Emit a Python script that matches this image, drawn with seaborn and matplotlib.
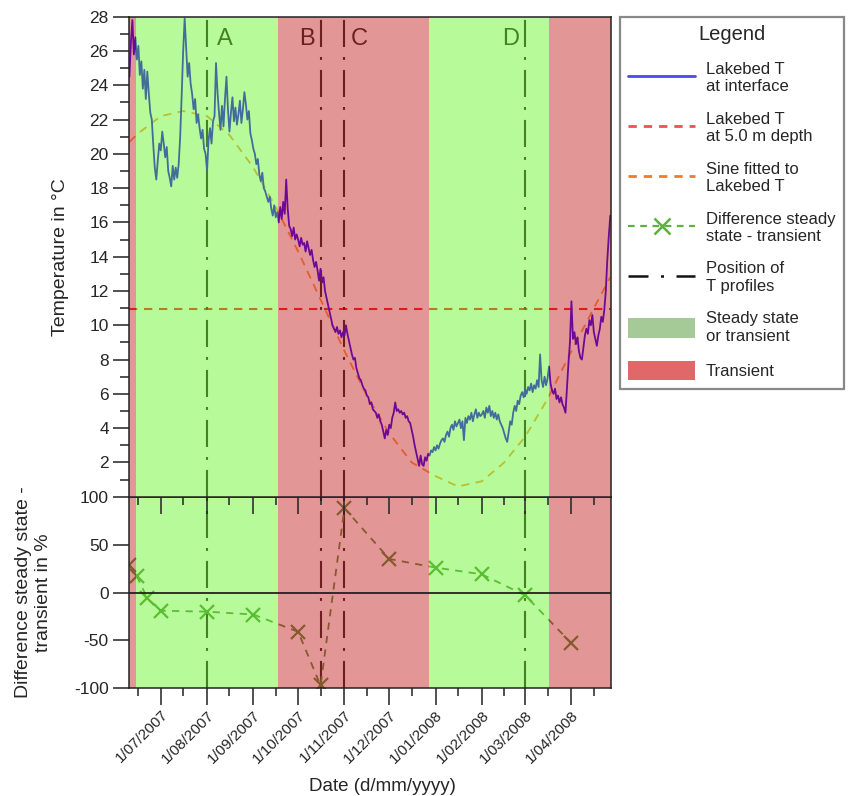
import matplotlib
matplotlib.use("Agg")
import matplotlib.pyplot as plt
import matplotlib.dates as mdates
import matplotlib.ticker as mticker
from matplotlib.lines import Line2D
from matplotlib.patches import Patch
import numpy as np
import pandas as pd
import seaborn as sns

sns.set_theme(style="ticks")
plt.rcParams['font.family'] = ['Liberation Sans', 'DejaVu Sans']
plt.rcParams['axes.unicode_minus'] = False

# ---------------- data ----------------
t_start = "2007-06-10"
t_jun = [24.5, 26.5, 27.8, 25.8, 26.8, 25.5, 26.3, 24.6, 25.4, 23.8, 24.9, 23.2, 24.8, 23.5,
         22.4, 22.0, 20.5, 19.2, 18.5, 19.6, 20.6]
t_jul = [20.2, 21.3, 20.6, 19.8, 20.4, 19.0, 18.6, 18.1, 19.3, 18.5, 19.2, 18.6, 19.4, 21.0,
         23.4, 26.0, 27.9, 26.2, 24.5, 25.3, 24.1, 23.5, 22.6, 23.2, 21.8, 22.3, 21.5, 20.9,
         21.4, 20.3, 20.0]
t_aug = [19.0, 20.8, 21.5, 20.6, 21.9, 22.2, 25.3, 23.6, 22.4, 21.4, 22.8, 21.6, 23.2, 24.5,
         22.6, 21.3, 22.4, 23.3, 21.9, 22.7, 21.7, 22.3, 23.1, 21.8, 22.6, 23.6, 22.9, 22.0,
         22.5, 21.2, 20.8]
t_sep = [20.3, 20.0, 19.4, 19.7, 18.8, 18.4, 18.9, 18.0, 17.8, 17.5, 17.2, 17.5, 16.8, 16.4,
         17.0, 16.3, 16.6, 16.0, 16.9, 16.2, 17.2, 16.5, 18.5, 16.8, 15.8, 15.6, 15.2, 15.7,
         15.0, 15.3]
t_oct = [15.0, 14.6, 15.1, 14.7, 14.8, 14.3, 14.9, 14.5, 14.1, 14.4, 13.8, 13.4, 13.7, 13.2,
         12.6, 13.3, 12.5, 12.8, 12.0, 11.6, 11.2, 10.8, 10.4, 10.0, 9.8, 9.6, 9.9, 9.5,
         9.7, 9.3, 9.6]
t_nov = [9.4, 10.0, 9.5, 9.1, 8.7, 8.3, 8.0, 8.1, 7.5, 7.2, 6.9, 6.8, 6.5, 6.3, 6.2, 5.9,
         5.8, 5.4, 5.5, 5.1, 5.0, 4.9, 4.6, 4.8, 4.4, 4.2, 3.8, 3.4, 3.9, 3.6]
t_dec = [4.2, 4.0, 4.6, 4.9, 5.5, 5.0, 5.1, 4.9, 5.0, 4.8, 4.9, 4.6, 4.7, 4.4, 4.3, 3.9,
         3.5, 3.0, 2.6, 2.2, 1.8, 2.4, 1.9, 1.8, 2.3, 2.1, 2.5, 2.4, 2.7, 2.6, 2.9]
t_jan = [2.7, 3.0, 2.8, 3.1, 3.3, 3.4, 3.2, 3.6, 3.8, 3.5, 4.0, 4.2, 3.9, 4.4, 4.1, 4.3,
         4.5, 4.0, 4.4, 3.3, 4.6, 4.3, 4.7, 4.5, 4.9, 4.4, 4.8, 5.1, 4.6, 4.9, 4.7]
t_feb = [4.8, 5.0, 4.6, 5.2, 4.9, 5.3, 4.7, 5.0, 4.6, 4.9, 4.5, 4.8, 4.4, 4.2, 4.0, 3.7,
         3.4, 3.2, 3.8, 4.4, 4.2, 4.9, 5.3, 5.0, 5.6, 5.4, 5.9, 6.1, 5.8]
t_mar = [6.3, 6.0, 6.4, 6.2, 6.6, 6.1, 6.5, 6.3, 6.8, 6.4, 8.3, 6.8, 6.4, 7.0, 6.5, 6.9,
         7.6, 6.6, 6.2, 6.0, 6.3, 5.7, 5.9, 5.5, 5.8, 5.4, 5.2, 4.9, 6.4, 7.8, 9.0]
t_apr = [11.4, 9.2, 9.6, 8.9, 9.3, 8.5, 8.1, 8.0, 8.7, 9.4, 9.8, 9.5, 10.3, 10.0, 10.6, 9.6,
         9.2, 8.8, 9.4, 9.8, 10.5, 10.2, 10.9, 12.0, 13.8, 15.2, 16.4]

sine_dates = ["2007-06-10", "2007-06-16", "2007-07-01", "2007-07-16", "2007-08-01", "2007-08-16",
              "2007-09-01", "2007-09-16", "2007-10-01", "2007-10-16", "2007-11-01", "2007-11-16",
              "2007-12-01", "2007-12-16", "2008-01-01", "2008-01-16", "2008-02-01", "2008-02-16",
              "2008-03-01", "2008-03-16", "2008-04-01", "2008-04-16", "2008-04-27"]
sine_vals = [20.7, 21.2, 22.2, 22.5, 22.2, 21.1, 19.2, 16.9, 14.3, 11.5, 8.5, 5.9,
             3.7, 2.0, 1.2, 0.6, 0.9, 2.0, 3.5, 5.7, 8.5, 11.0, 12.8]

depth_T = 10.95

diff_dates = ["2007-06-10", "2007-06-15", "2007-06-22", "2007-07-01", "2007-08-01", "2007-09-01",
              "2007-10-01", "2007-10-16", "2007-11-01", "2007-12-01", "2008-01-01", "2008-02-01",
              "2008-03-01", "2008-04-01"]
diff_vals = [29, 17, -6, -19, -20, -23, -41, -97, 88, 35, 26, 19, -3, -53]

profile_dates = ["2007-08-01", "2007-10-16", "2007-11-01", "2008-03-01"]
profile_names = ["A", "B", "C", "D"]

state_bounds = ["2007-06-09 17:00", "2007-06-14 16:00", "2007-09-17 07:00",
                "2007-12-27 07:00", "2008-03-17 05:00", "2008-04-27 12:00"]
state_kind = ["transient", "steady", "transient", "steady", "transient"]

legend_labels = ["Lakebed T\nat interface", "Lakebed T\nat 5.0 m depth",
                 "Sine fitted to\nLakebed T", "Difference steady\nstate - transient",
                 "Position of\nT profiles", "Steady state\nor transient", "Transient"]

# ---------------- styling ----------------
SPAN_COL = {"steady": "#61f41f", "transient": "#c31616"}
SPAN_ALPHA = 0.45
LINE_BLUE = "#2800ff"
SINE_COL = "#ff963c"
RED_COL = "#ff1e1e"
PROF_COL = "#282828"
DIFF_COL = "#549242"
SPINE_COL = "#222222"

lakebed_T = t_jun + t_jul + t_aug + t_sep + t_oct + t_nov + t_dec + t_jan + t_feb + t_mar + t_apr
df_T = pd.DataFrame({"date": pd.date_range(t_start, periods=len(lakebed_T), freq="D"),
                     "T": lakebed_T})
df_sine = pd.DataFrame({"date": pd.to_datetime(sine_dates), "T": sine_vals})
df_diff = pd.DataFrame({"date": pd.to_datetime(diff_dates), "d": diff_vals})

xlim = (pd.Timestamp(state_bounds[0]), pd.Timestamp(state_bounds[-1]))

fig = plt.figure(figsize=(8.49, 7.96), dpi=100)
ax2 = fig.add_axes([0.1519, 0.1353, 0.5678, 0.2407])
ax1 = fig.add_axes([0.1519, 0.376, 0.5678, 0.603])

dashdot = (0, (13, 4.8, 1.4, 4.8))

# upper panel
sns.lineplot(data=df_T, x="date", y="T", ax=ax1, color=LINE_BLUE, lw=1.3,
             estimator=None, sort=False, zorder=4)
ax1.axhline(depth_T, color=RED_COL, lw=1.5, ls=(0, (4, 3.2)), zorder=3)
sns.lineplot(data=df_sine, x="date", y="T", ax=ax1, color=SINE_COL, lw=1.3,
             linestyle=(0, (4.5, 3.5)), estimator=None, sort=False, zorder=3)

# lower panel
sns.lineplot(data=df_diff, x="date", y="d", ax=ax2, color=DIFF_COL, lw=1.3,
             linestyle=(0, (4, 3.5)), marker="x", markersize=10, markeredgewidth=1.6,
             markeredgecolor=DIFF_COL, estimator=None, sort=False, zorder=4)
ax2.axhline(0, color=SPINE_COL, lw=1.3, zorder=11)

offsets = {"A": 12, "B": -9, "C": 10, "D": -10}
for d, name in zip(profile_dates, profile_names):
    ts = pd.Timestamp(d)
    for ax in (ax1, ax2):
        ax.axvline(ts, color=PROF_COL, lw=1.5, ls=dashdot, zorder=3)
    ax1.text(ts + pd.Timedelta(days=offsets[name]), 26.7, name, color=PROF_COL,
             fontsize=17, ha="center", va="center", zorder=5)

for ax in (ax1, ax2):
    for s, e, k in zip(state_bounds[:-1], state_bounds[1:], state_kind):
        ax.axvspan(pd.Timestamp(s), pd.Timestamp(e), color=SPAN_COL[k], alpha=SPAN_ALPHA,
                   lw=0, zorder=10)
    ax.set_xlim(*xlim)
    for sp in ax.spines.values():
        sp.set_visible(True)
        sp.set_color(SPINE_COL)
        sp.set_linewidth(1.1)
        sp.set_zorder(12)
    ax.xaxis.set_major_locator(mdates.MonthLocator(bymonthday=1))
    ax.xaxis.set_minor_locator(mdates.MonthLocator(bymonthday=16))
    ax.tick_params(axis="x", which="major", length=12, width=1.1, color=SPINE_COL,
                   direction="out", top=False)
    ax.tick_params(axis="x", which="minor", length=6, width=1.1, color=SPINE_COL,
                   direction="out", top=False, bottom=True)
    ax.tick_params(axis="y", which="major", length=11.5, width=1.1, color=SPINE_COL,
                   direction="out", right=False, labelsize=12.5, pad=3)

ax1.set_ylim(0, 28)
ax1.set_yticks(np.arange(2, 29, 2))
ax1.yaxis.set_minor_locator(mticker.FixedLocator(np.arange(1, 28, 2)))
ax1.tick_params(axis="y", which="minor", length=6.5, width=1.1, color=SPINE_COL,
                direction="out", left=True)
ax1.tick_params(axis="x", which="both", labelbottom=False)
ax1.set_xlabel("")
ax1.set_ylabel("Temperature in °C", fontsize=14)
ax1.yaxis.set_label_coords(-0.125, 0.5)

ax2.set_ylim(-100, 100)
ax2.set_yticks([-100, -50, 0, 50, 100])


def fmt_date(v, pos=None):
    d = mdates.num2date(v)
    return f"{d.day}/{d.month:02d}/{d.year}"


ax2.xaxis.set_major_formatter(mticker.FuncFormatter(fmt_date))
for lab in ax2.get_xticklabels():
    lab.set_rotation(45)
    lab.set_ha("right")
    lab.set_rotation_mode("anchor")
    lab.set_fontsize(11)
ax2.tick_params(axis="x", which="major", pad=2)
ax2.set_xlabel("Date (d/mm/yyyy)", fontsize=13.5)
ax2.xaxis.set_label_coords(0.525, -0.47)
ax2.set_ylabel("Difference steady state -\ntransient in %", fontsize=14,
               multialignment="center", linespacing=1.25)
ax2.yaxis.set_label_coords(-0.16, 0.5)

ax1.set_zorder(2)
ax2.set_zorder(1)

# legend
handles = [
    Line2D([], [], color="#4a4aee", lw=2),
    Line2D([], [], color="#f05050", lw=2, ls=(0, (3, 2.5))),
    Line2D([], [], color="#f07a30", lw=2, ls=(0, (3, 2.5))),
    Line2D([], [], color="#5fb040", lw=1.6, ls=(0, (3, 2.5)), marker="x", markersize=11,
           markeredgewidth=1.8, markevery=[1]),
    Line2D([], [], color="#111111", lw=1.8, ls=(0, (8, 5, 1.2, 5))),
    Patch(facecolor="#a6c998", edgecolor="none"),
    Patch(facecolor="#e06868", edgecolor="none"),
]
handles[3].set_data([0, 0.5, 1], [0, 0, 0])
leg = fig.legend(handles=handles, labels=legend_labels, loc="upper left",
                 bbox_to_anchor=(620 / 849, 1 - 17 / 796), title="Legend",
                 title_fontsize=14.5, fontsize=12, frameon=True, fancybox=False,
                 edgecolor="#888888", framealpha=1, handlelength=4.0, handleheight=1.4,
                 labelspacing=1.05, borderpad=0.5, handletextpad=0.65, borderaxespad=0)
leg.get_frame().set_linewidth(1.6)

fig.savefig("out.png", dpi=100)
